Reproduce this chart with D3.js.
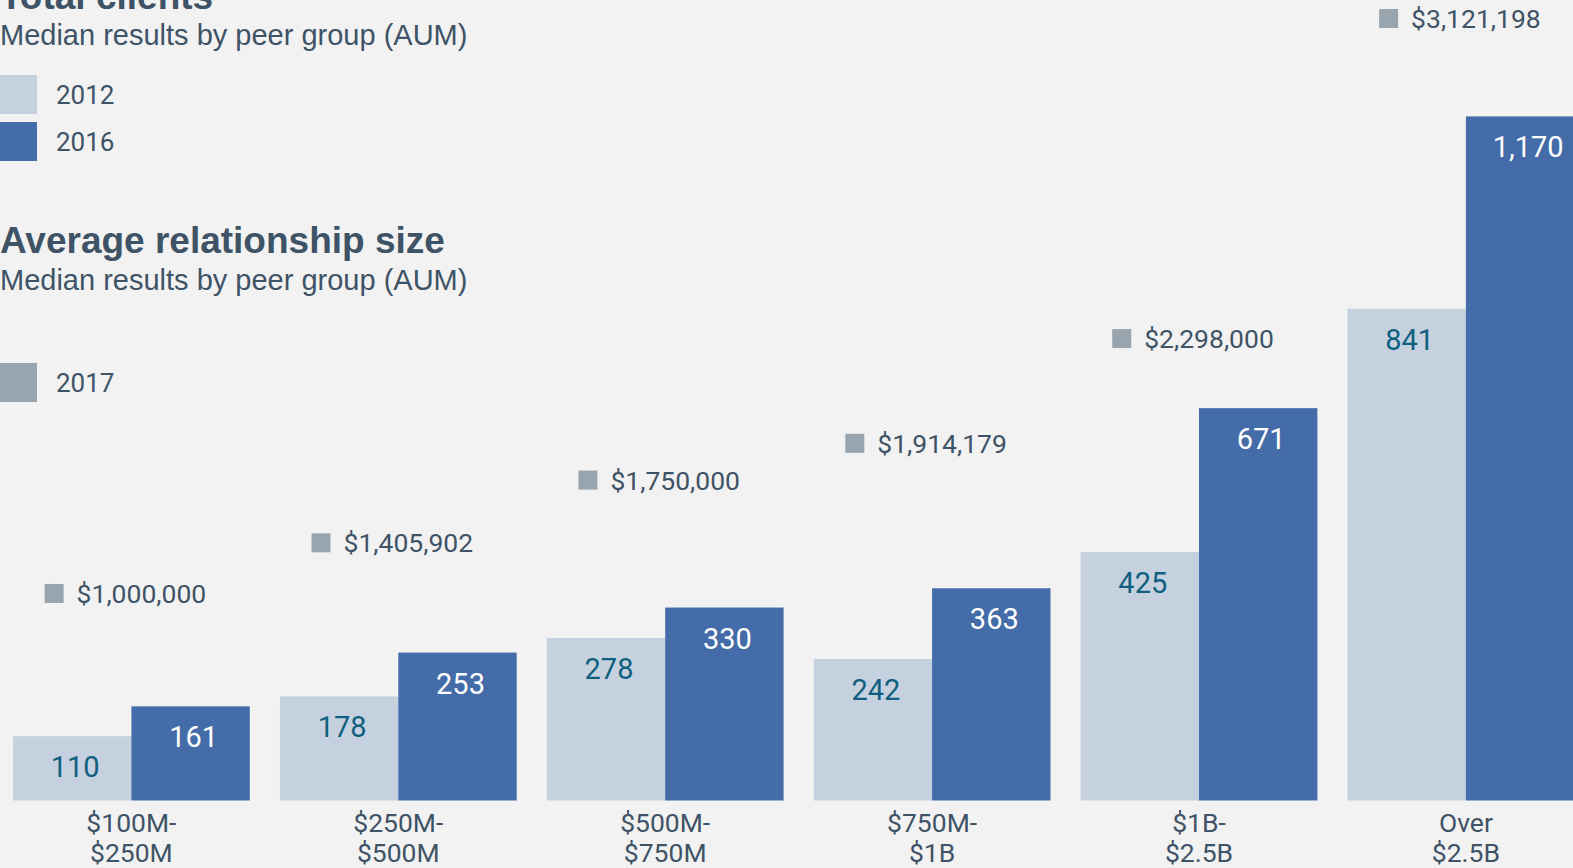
<!DOCTYPE html>
<html>
<head>
<meta charset="utf-8">
<script src="https://cdn.jsdelivr.net/npm/d3@7"></script>
<style>
	html, body { margin: 0; padding: 0; background: #f2f2f2; overflow: hidden; }
	svg { display: block; }
</style>
</head>
<body>
<svg id="chart" width="1573" height="868"></svg>
<script>
const categories = [
	["$100M-", "$250M"],
	["$250M-", "$500M"],
	["$500M-", "$750M"],
	["$750M-", "$1B"],
	["$1B-", "$2.5B"],
	["Over", "$2.5B"],
];
const years = ["2012", "2016"];
const clients2012 = [110, 178, 278, 242, 425, 841];
const clients2016 = [161, 253, 330, 363, 671, 1170];
const relationship2017 = [1000000, 1405902, 1750000, 1914179, 2298000, 3121198];

const colors = {
	bg: "#f2f2f2",
	light: "#c5d1df",
	dark: "#436ca8",
	marker: "#98a5af",
	text: "#3f5366",
	teal: "#0f5f80",
};
const numFont = "Roboto, 'Liberation Sans', Arial, sans-serif";
const titleFont = "'Liberation Sans', Arial, Helvetica, sans-serif";

const width = 1573,
	height = 868,
	baseline = 800.5;

const svg = d3.select("#chart");
svg.append("rect").attr("width", width).attr("height", height).attr("fill", colors.bg);

const keys = categories.map((d) => d.join(" "));
const data = keys.map((k, i) => ({
	key: k,
	lines: categories[i],
	values: [clients2012[i], clients2016[i]],
	avg: relationship2017[i],
}));

const x0 = d3.scaleBand().domain(keys).range([13, 1584.3]).paddingInner(0.1128).paddingOuter(0);
const x1 = d3.scaleBand().domain(years).range([0, x0.bandwidth()]).padding(0);
const y = d3.scaleLinear().domain([0, 1170]).range([baseline, 116.4]);
// the 2017 markers sit on their own (non-linear) scale
const yMarker = d3.scalePow().exponent(2.4).domain([0, 3121198]).range([633.5, 18.5]);

const fmt = d3.format(",");

// titles
const titles = svg.append("g").attr("fill", colors.text);
titles.append("text").attr("x", 0).attr("y", 9).attr("font-family", titleFont)
	.attr("font-weight", "bold").attr("font-size", 37).text("Total clients");
titles.append("text").attr("x", 0).attr("y", 45).attr("font-family", titleFont)
	.attr("font-size", 29).text("Median results by peer group (AUM)");
titles.append("text").attr("x", 0).attr("y", 253).attr("font-family", titleFont)
	.attr("font-weight", "bold").attr("font-size", 37).text("Average relationship size");
titles.append("text").attr("x", 0).attr("y", 290).attr("font-family", titleFont)
	.attr("font-size", 29).text("Median results by peer group (AUM)");

// legends
const legendItems = [
	{ label: "2012", color: colors.light, y: 75 },
	{ label: "2016", color: colors.dark, y: 122 },
	{ label: "2017", color: colors.marker, y: 363 },
];
const legend = svg.append("g")
	.selectAll("g")
	.data(legendItems)
	.join("g")
	.attr("transform", (d) => `translate(0, ${d.y})`);
legend.append("rect").attr("width", 37).attr("height", 39).attr("fill", (d) => d.color);
legend.append("text").attr("x", 56).attr("y", 29).attr("font-family", numFont)
	.attr("font-size", 26).attr("fill", colors.text).text((d) => d.label);

// bars
const group = svg.append("g")
	.selectAll(".group")
	.data(data)
	.join("g")
	.attr("class", "group")
	.attr("transform", (d) => `translate(${x0(d.key)}, 0)`);

const bar = group.selectAll(".bar")
	.data((d) => d.values.map((v, i) => ({ year: years[i], value: v })))
	.join("g")
	.attr("class", "bar");

bar.append("rect")
	.attr("x", (d) => x1(d.year))
	.attr("y", (d) => y(d.value))
	.attr("width", x1.bandwidth())
	.attr("height", (d) => baseline - y(d.value))
	.attr("fill", (d) => (d.year === "2012" ? colors.light : colors.dark));

bar.append("text")
	.attr("x", (d) => x1(d.year) + x1.bandwidth() / 2 + 3)
	.attr("y", (d) => y(d.value) + 41)
	.attr("text-anchor", "middle")
	.attr("font-family", numFont)
	.attr("font-size", 29)
	.attr("fill", (d) => (d.year === "2012" ? colors.teal : "#ffffff"))
	.text((d) => fmt(d.value));

// category labels
group.append("text")
	.attr("x", x0.bandwidth() / 2)
	.attr("text-anchor", "middle")
	.attr("font-family", numFont)
	.attr("font-size", 26.5)
	.attr("fill", colors.text)
	.selectAll("tspan")
	.data((d) => d.lines)
	.join("tspan")
	.attr("x", x0.bandwidth() / 2)
	.attr("y", (d, i) => 832 + i * 30)
	.text((d) => d);

// 2017 markers
const marker = group.append("g")
	.attr("class", "marker")
	.attr("transform", (d) => `translate(0, ${yMarker(d.avg)})`);
marker.append("rect").attr("width", 19).attr("height", 19).attr("y", -9.5).attr("fill", colors.marker);
marker.append("text").attr("x", 32).attr("y", 9.5).attr("font-family", numFont)
	.attr("font-size", 26.5).attr("fill", colors.text)
	.text((d) => "$" + fmt(d.avg));
marker.each(function () {
	const m = d3.select(this);
	const w = this.getBBox().width;
	const ty = m.attr("transform").match(/,\s*([-\d.]+)/)[1];
	m.attr("transform", `translate(${x0.bandwidth() / 2 - w / 2 - 6}, ${ty})`);
});
</script>
</body>
</html>
